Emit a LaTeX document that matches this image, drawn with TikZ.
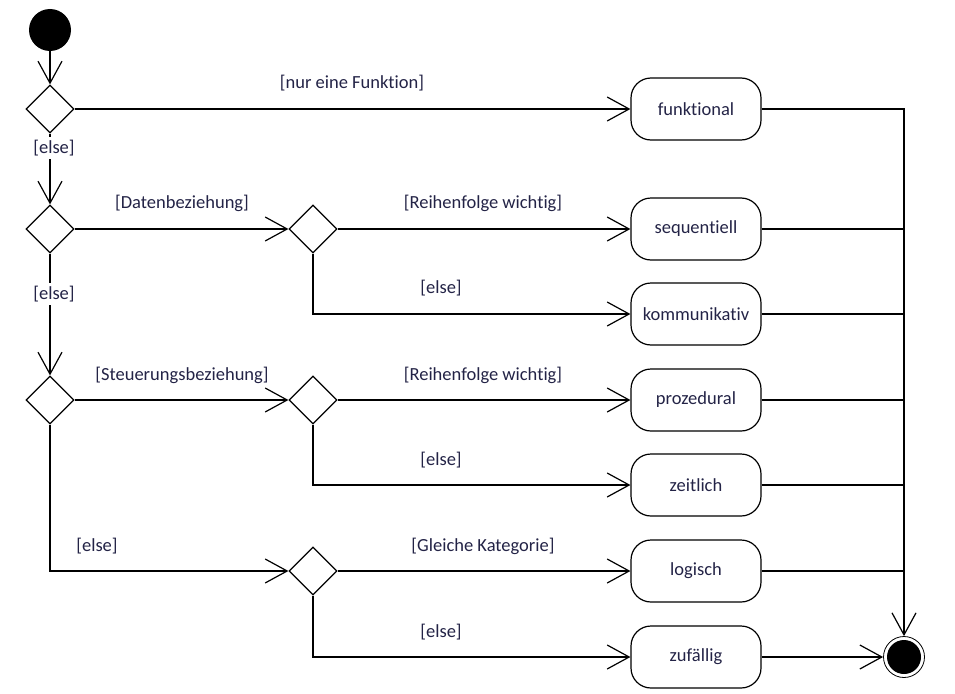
\documentclass[tikz,border=0pt]{standalone}
\usepackage{fontspec}
\setmainfont{Carlito}[Ligatures=NoCommon]
\usetikzlibrary{shapes.geometric,arrows.meta}
\definecolor{labelcol}{RGB}{35,35,70}
\tikzset{
	>={Straight Barb[length=22pt,width=24pt]},
	flow/.style={line width=1.2pt,->},
	mergeline/.style={line width=1.2pt},
	decision/.style={diamond,draw,line width=1.2pt,minimum width=48pt,minimum height=48pt,inner sep=0pt},
	activity/.style={rectangle,rounded corners=20pt,draw,line width=1.2pt,minimum width=130pt,minimum height=62pt,text=labelcol},
	guard/.style={text=labelcol,inner sep=0pt},
	onlineguard/.style={guard,fill=white,inner sep=3pt}
}

\begin{document}
\begin{tikzpicture}[x=1pt,y=-1pt,font=\fontsize{18.5}{22}\selectfont]
    \useasboundingbox (0,0) rectangle (955,693);
    % start, end
    \node[circle,fill,minimum size=42pt,inner sep=0pt] (start) at (50,30) {};
    \node[circle,draw,line width=0.8pt,minimum size=41pt,inner sep=0pt] (stop) at (904,657) {};
    \node[circle,fill,minimum size=34pt,inner sep=0pt] (stopdot) at (stop) {};
    % decisions
    \node[decision] (d1) at (50,109) {};
    \node[decision] (d2) at (50,229) {};
    \node[decision] (d3) at (50,400) {};
    \node[decision] (d4) at (313,229) {};
    \node[decision] (d5) at (313,400) {};
    \node[decision] (d6) at (313,571) {};
    % activities
    \node[activity] (funk) at (696,109) {funktional};
    \node[activity] (seq) at (696,229) {sequentiell};
    \node[activity] (komm) at (696,314) {kommunikativ};
    \node[activity] (proz) at (696,400) {prozedural};
    \node[activity] (zeit) at (696,485) {zeitlich};
    \node[activity] (log) at (696,571) {logisch};
    \node[activity] (zuf) at (696,657) {zufällig};
    % flows
    \draw[flow] (start) -- (d1);
    \draw[flow] (d1) -- (d2);
    \draw[flow] (d2) -- (d3);
    \draw[flow] (d3) |- (d6);
    \draw[flow] (d1) -- (funk);
    \draw[flow] (d2) -- (d4);
    \draw[flow] (d4) -- (seq);
    \draw[flow] (d4) |- (komm);
    \draw[flow] (d3) -- (d5);
    \draw[flow] (d5) -- (proz);
    \draw[flow] (d5) |- (zeit);
    \draw[flow] (d6) -- (log);
    \draw[flow] (d6) |- (zuf);
    \draw[flow] (zuf) -- (stop);
    \draw[flow] (funk) -| (stop);
    \foreach \n in {seq,komm,proz,zeit,log}
        \draw[mergeline] (\n) -- (\n -| stop);
    % guards
    \node[onlineguard] (g1) at (54,148) {[else]};
    \node[guard] (g2) at (352,83) {[nur eine Funktion]};
    \node[guard] (g3) at (182,203) {[Datenbeziehung]};
    \node[guard] (g4) at (483,203) {[Reihenfolge wichtig]};
    \node[guard] (g5) at (441,288) {[else]};
    \node[onlineguard] (g6) at (54,294) {[else]};
    \node[guard] (g7) at (182,375) {[Steuerungsbeziehung]};
    \node[guard] (g8) at (483,375) {[Reihenfolge wichtig]};
    \node[guard] (g9) at (441,460) {[else]};
    \node[guard] (g10) at (97,546) {[else]};
    \node[guard] (g11) at (483,546) {[Gleiche Kategorie]};
    \node[guard] (g12) at (441,632) {[else]};
\end{tikzpicture}
\end{document}
